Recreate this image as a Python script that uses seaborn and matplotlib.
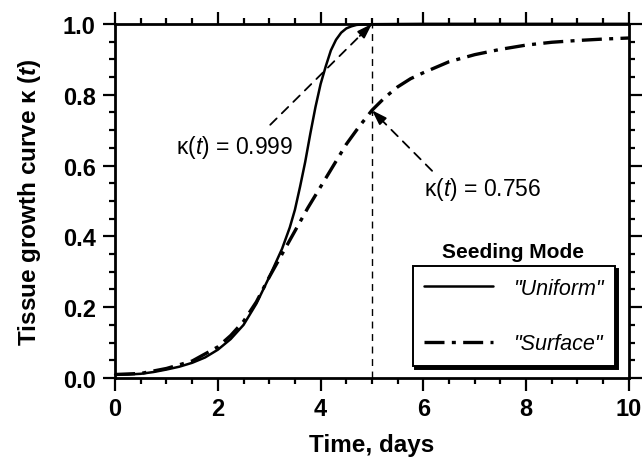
import numpy as np
import pandas as pd
import seaborn as sns
import matplotlib.pyplot as plt
from matplotlib.ticker import MultipleLocator

# values
t_uniform = [0, 0.25, 0.5, 0.75, 1.0, 1.25, 1.5, 1.75, 2.0, 2.25, 2.5, 2.75,
             3.0, 3.25, 3.4, 3.5, 3.6, 3.7, 3.8, 3.9, 4.0, 4.1, 4.2, 4.3,
             4.4, 4.5, 4.6, 4.7, 4.8, 5.0, 6.0, 8.0, 10.0]
k_uniform = [0.010, 0.010, 0.012, 0.017, 0.024, 0.032, 0.043, 0.058, 0.080,
             0.110, 0.150, 0.210, 0.285, 0.365, 0.425, 0.475, 0.540, 0.610,
             0.690, 0.765, 0.830, 0.880, 0.925, 0.955, 0.975, 0.987, 0.993,
             0.997, 0.998, 0.999, 1.0, 1.0, 1.0]

t_surface = [0, 0.5, 1.0, 1.5, 2.0, 2.25, 2.5, 2.75, 3.0, 3.25, 3.5, 3.75,
             4.0, 4.25, 4.5, 4.75, 5.0, 5.25, 5.5, 5.75, 6.0, 6.5, 7.0, 7.5,
             8.0, 8.5, 9.0, 9.5, 10.0]
k_surface = [0.010, 0.013, 0.027, 0.048, 0.088, 0.120, 0.160, 0.215, 0.285,
             0.350, 0.415, 0.480, 0.540, 0.600, 0.660, 0.710, 0.756, 0.792,
             0.822, 0.845, 0.862, 0.893, 0.913, 0.928, 0.940, 0.948, 0.953,
             0.957, 0.960]

t_mark = 5.0
k_mark_uniform = 0.999
k_mark_surface = 0.756

df_u = pd.DataFrame({'t': t_uniform, 'k': k_uniform})
df_s = pd.DataFrame({'t': t_surface, 'k': k_surface})

sns.set_style("ticks")
plt.rcParams['font.family'] = ['Liberation Sans', 'DejaVu Sans']
plt.rcParams['mathtext.fontset'] = 'custom'
plt.rcParams['mathtext.rm'] = 'Liberation Sans'
plt.rcParams['mathtext.it'] = 'Liberation Sans:italic'
plt.rcParams['mathtext.bf'] = 'Liberation Sans:bold'
plt.rcParams['mathtext.bfit'] = 'Liberation Sans:bold:italic'
plt.rcParams['text.color'] = 'black'
plt.rcParams['axes.labelcolor'] = 'black'
plt.rcParams['xtick.color'] = 'black'
plt.rcParams['ytick.color'] = 'black'

fig = plt.figure(figsize=(6.43, 4.60), dpi=100)
ax = fig.add_axes([0.179, 0.176, 0.799, 0.770])

sns.lineplot(data=df_u, x='t', y='k', ax=ax, color='black', lw=1.8,
             label='"Uniform"', clip_on=False)
sns.lineplot(data=df_s, x='t', y='k', ax=ax, color='black', lw=2.4,
             label='"Surface"')
ax.lines[-1].set_dashes([6, 2.2, 1.2, 2.2])

# vertical marker at t = 5
ax.plot([t_mark, t_mark], [0, 1], color='black', lw=1.0, ls=(0, (5, 4)))

ax.set_xlim(0, 10)
ax.set_ylim(0, 1)
ax.xaxis.set_major_locator(MultipleLocator(2))
ax.xaxis.set_minor_locator(MultipleLocator(0.5))
ax.yaxis.set_major_locator(MultipleLocator(0.2))
ax.yaxis.set_minor_locator(MultipleLocator(0.05))
ax.yaxis.set_major_formatter(plt.FormatStrFormatter('%.1f'))
ax.tick_params(which='both', direction='out', top=True, right=True,
               width=1.6, color='black')
ax.tick_params(which='major', length=9, labelsize=17, pad=5)
ax.tick_params(which='minor', length=4.5)
for lab in ax.get_xticklabels() + ax.get_yticklabels():
    lab.set_fontweight('bold')
for sp in ax.spines.values():
    sp.set_linewidth(2.0)
    sp.set_color('black')

ax.set_xlabel('Time, days', fontsize=17.5, fontweight='bold', labelpad=9)
ax.set_ylabel(r'Tissue growth curve κ ($\mathbfit{t}$)', fontsize=17.5,
              fontweight='bold', labelpad=14)


def dashed_arrow(txt, xy, start, textpos):
    ax.text(textpos[0], textpos[1], txt, fontsize=16.5, ha='center', va='center')
    dx, dy = xy[0] - start[0], xy[1] - start[1]
    back = (xy[0] - 0.12 * dx, xy[1] - 0.12 * dy)
    ax.annotate('', xy=back, xytext=start,
                arrowprops=dict(arrowstyle='-', color='black', lw=1.3,
                                ls=(0, (5, 4)), shrinkA=0, shrinkB=0))
    ax.annotate('', xy=xy, xytext=back,
                arrowprops=dict(arrowstyle='-|>,head_length=0.9,head_width=0.3',
                                color='black', lw=1.3, shrinkA=0, shrinkB=0))


dashed_arrow(r'κ($\mathit{t}$) = 0.999', (t_mark, 1.0), (3.02, 0.715), (2.33, 0.655))
dashed_arrow(r'κ($\mathit{t}$) = 0.756', (t_mark, k_mark_surface), (6.17, 0.585),
             (7.16, 0.534))

leg = ax.legend(loc='lower right', bbox_to_anchor=(0.973, 0.034),
                borderaxespad=0, fontsize=15.5, handlelength=3.2,
                labelspacing=1.6, frameon=True, fancybox=False,
                shadow={'color': 'black', 'alpha': 1.0},
                borderpad=0.55, handletextpad=0.9)
leg.get_frame().set_edgecolor('black')
leg.get_frame().set_linewidth(1.4)
for txt in leg.get_texts():
    txt.set_fontstyle('italic')
ax.text(0.774, 0.356, 'Seeding Mode', transform=ax.transAxes, fontsize=15,
        fontweight='bold', ha='center', va='center')

fig.savefig('out.png', dpi=100)
